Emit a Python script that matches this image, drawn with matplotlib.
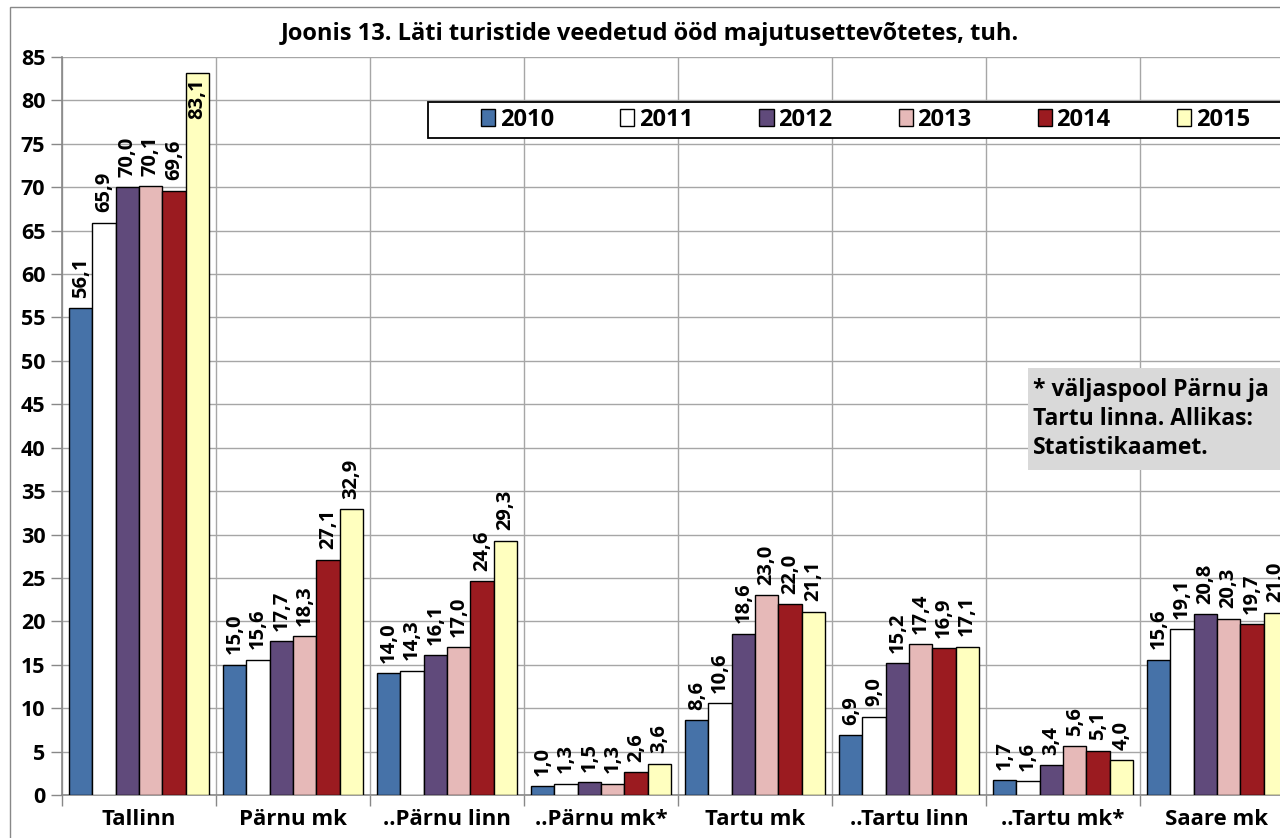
import matplotlib.pyplot as plt
import numpy as np
from matplotlib.patches import Rectangle

plt.rcParams['font.family'] = ['Open Sans', 'DejaVu Sans']
plt.rcParams['font.weight'] = 'bold'

categories = ["Tallinn", "Pärnu mk", "..Pärnu linn", "..Pärnu mk*",
              "Tartu mk", "..Tartu linn", "..Tartu mk*", "Saare mk"]
years = ["2010", "2011", "2012", "2013", "2014", "2015"]
v2010 = [56.1, 15.0, 14.0, 1.0, 8.6, 6.9, 1.7, 15.6]
v2011 = [65.9, 15.6, 14.3, 1.3, 10.6, 9.0, 1.6, 19.1]
v2012 = [70.0, 17.7, 16.1, 1.5, 18.6, 15.2, 3.4, 20.8]
v2013 = [70.1, 18.3, 17.0, 1.3, 23.0, 17.4, 5.6, 20.3]
v2014 = [69.6, 27.1, 24.6, 2.6, 22.0, 16.9, 5.1, 19.7]
v2015 = [83.1, 32.9, 29.3, 3.6, 21.1, 17.1, 4.0, 21.0]
series = [v2010, v2011, v2012, v2013, v2014, v2015]
colors = ["#4672A8", "#FFFFFF", "#604A7B", "#E6B9B8", "#9B1B20", "#FFFFBF"]

W, H = 1280, 838
fig = plt.figure(figsize=(W / 100, H / 100), dpi=100)
fig.patches.append(Rectangle((10 / W, -0.1), 1.2, (H - 7) / H + 0.1, transform=fig.transFigure,
                             fill=False, edgecolor="#888888", lw=1))

ax_l, ax_r, ax_b, ax_t = 62, 1280, 795, 57
ax = fig.add_axes([ax_l / W, (H - ax_b) / H, (ax_r - ax_l) / W, (ax_b - ax_t) / H])

cat_px = 154
x = np.arange(len(categories))

bw = 0.151
for i, (vals, c, yr) in enumerate(zip(series, colors, years)):
    pos = x + (i - 2.5) * bw
    ax.bar(pos, vals, bw, color=c, edgecolor="black", linewidth=1, label=yr, zorder=3)
    for p, v in zip(pos, vals):
        txt = f"{v:.1f}".replace(".", ",")
        if v > 78:
            ax.text(p, v - 0.6, txt, rotation=90, ha="center", va="top",
                    fontsize=14.5, fontweight="bold", zorder=4, clip_on=True)
        else:
            ax.text(p, v + 1.2, txt, rotation=90, ha="center", va="bottom",
                    fontsize=14.5, fontweight="bold", zorder=4, clip_on=True)

ax.set_yticks(np.arange(0, 86, 5))
ax.set_yticklabels([str(t) for t in range(0, 86, 5)], fontsize=15.5, fontweight="bold")
ax.set_xticks(x)
ax.set_xticklabels(categories, fontsize=16, fontweight="bold")
ax.set_xticks(np.arange(-0.5, len(categories), 1), minor=True)
ax.set_xlim(-0.5, -0.5 + (ax_r - ax_l) / cat_px)
ax.set_ylim(0, 85)
ax.tick_params(axis="x", which="major", length=0, pad=10)
ax.tick_params(axis="x", which="minor", length=8, color="#888888", width=1)
ax.tick_params(axis="y", length=8, color="#888888", width=1, pad=4)
ax.grid(axis="y", which="major", color="#A6A6A6", lw=1, zorder=0)
ax.grid(axis="x", which="minor", color="#A6A6A6", lw=1, zorder=0)
for s in ["top", "right"]:
    ax.spines[s].set_visible(False)
for s in ["left", "bottom"]:
    ax.spines[s].set_color("#888888")
    ax.spines[s].set_linewidth(1.2)

fig.text(650 / W, 1 - 34 / H, "Joonis 13. Läti turistide veedetud ööd majutusettevõtetes, tuh.",
         ha="center", va="center", fontsize=17, fontweight="bold")

# legend box runs off the right edge, as in the original
fig.patches.append(Rectangle((428 / W, 1 - 138 / H), 0.7, 36 / H, transform=fig.transFigure,
                             facecolor="white", edgecolor="black", lw=1.3, zorder=5))
leg = fig.legend(loc="center left", bbox_to_anchor=(481 / W, 1 - 120 / H), ncol=6,
                 frameon=False, fontsize=17,
                 handlelength=0.6, handleheight=0.75, handletextpad=0.2,
                 columnspacing=2.8, borderpad=0, borderaxespad=0)
leg.set_zorder(6)
for t in leg.get_texts():
    t.set_fontweight("bold")

fig.patches.append(Rectangle((1028 / W, 1 - 470 / H), 0.2, 102 / H, transform=fig.transFigure,
                             facecolor="#D9D9D9", edgecolor="none", zorder=5))
fig.text(1033 / W, 1 - 419 / H, "* väljaspool Pärnu ja\nTartu linna. Allikas:\nStatistikaamet.",
         ha="left", va="center", fontsize=16.5, fontweight="bold", linespacing=1.3, zorder=6)

fig.savefig("out.png", dpi=100)
